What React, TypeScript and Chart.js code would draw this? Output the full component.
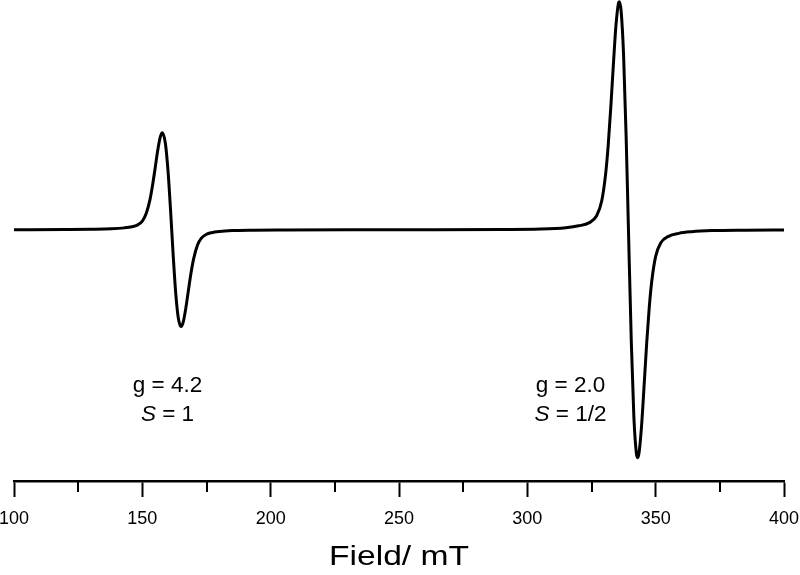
import { useEffect, useRef } from 'react';
import { Chart, registerables } from 'chart.js';

Chart.register(...registerables);

const FONT = '"Liberation Sans", Arial, Helvetica, sans-serif';

// Magnetic field (mT) sampled along the recorded trace
const fieldMT = [
  100, 120, 130, 138, 143, 146, 148, 150, 151.5, 153, 154, 155, 156, 157, 157.8,
  159, 160, 161, 162, 163, 164, 165.1, 166, 167, 168, 169, 170, 171.5, 173, 175,
  177, 180, 185, 193, 205, 230, 260, 290, 305, 315, 320, 324, 327, 329, 330.5,
  331.5, 332.5, 333.5, 334.5, 335.5, 335.8, 336.5, 337.5, 338.5, 339.4, 340.5,
  341.5, 342.5, 343.0, 343.5, 344.5, 345.5, 346.5, 347.5, 348.5, 350, 352, 355,
  359, 364, 372, 385, 400,
];

// EPR derivative signal (arbitrary units, g = 2.0 line normalised to 1)
const signal = [
  0, 0.001, 0.002, 0.004, 0.008, 0.013, 0.020, 0.038, 0.071, 0.133, 0.196, 0.271,
  0.348, 0.407, 0.425, 0.377, 0.259, 0.085, -0.108, -0.277, -0.386, -0.425, -0.402,
  -0.340, -0.262, -0.188, -0.127, -0.067, -0.037, -0.020, -0.013, -0.008, -0.004,
  -0.002, -0.001, 0, 0, 0.001, 0.003, 0.009, 0.017, 0.030, 0.061, 0.127, 0.244,
  0.369, 0.534, 0.720, 0.892, 0.993, 1.0, 0.964, 0.766, 0.406, 0, -0.489, -0.819,
  -0.982, -1.0, -0.981, -0.861, -0.683, -0.498, -0.341, -0.224, -0.117, -0.057,
  -0.029, -0.016, -0.009, -0.004, -0.002, -0.001,
];

const majorTicks = [100, 150, 200, 250, 300, 350, 400];
const minorTicks = [125, 175, 225, 275, 325, 375];
const axisTitle = 'Field/ mT';

const gLabels = ['g = 4.2', 'g = 2.0'];
const spinLabels = ['1', '1/2'];
const labelFields = [159.8, 316.8];

const annotPlugin = {
  id: 'annot',
  afterDraw(chart: any) {
    const ctx = chart.ctx as CanvasRenderingContext2D;
    const xs = chart.scales.x;
    const area = chart.chartArea;
    ctx.save();
    // minor ticks
    ctx.strokeStyle = '#000';
    ctx.lineWidth = 2;
    minorTicks.forEach((v) => {
      const x = Math.round(xs.getPixelForValue(v));
      ctx.beginPath();
      ctx.moveTo(x, area.bottom);
      ctx.lineTo(x, area.bottom + 11);
      ctx.stroke();
    });
    // axis title (horizontally stretched like the original)
    ctx.fillStyle = '#000';
    ctx.save();
    ctx.font = `28px ${FONT}`;
    ctx.textAlign = 'center';
    ctx.textBaseline = 'alphabetic';
    ctx.translate((area.left + area.right) / 2, 565);
    ctx.scale(1.2, 1);
    ctx.fillText(axisTitle, 0, 0);
    ctx.restore();
    // annotations
    const size = 22.5;
    gLabels.forEach((g, i) => {
      const cx = xs.getPixelForValue(labelFields[i]);
      ctx.font = `${size}px ${FONT}`;
      ctx.textAlign = 'left';
      ctx.textBaseline = 'alphabetic';
      const w1 = ctx.measureText(g).width;
      ctx.fillText(g, cx - w1 / 2, 392);
      ctx.font = `italic ${size}px ${FONT}`;
      const ws = ctx.measureText('S').width;
      ctx.font = `${size}px ${FONT}`;
      const rest = ' = ' + spinLabels[i];
      const wr = ctx.measureText(rest).width;
      const x0 = cx - (ws + wr) / 2;
      ctx.font = `italic ${size}px ${FONT}`;
      ctx.fillText('S', x0, 421);
      ctx.font = `${size}px ${FONT}`;
      ctx.fillText(rest, x0 + ws, 421);
    });
    ctx.restore();
  },
};

export default function App() {
  const ref = useRef<HTMLCanvasElement>(null);
  useEffect(() => {
    const canvas = ref.current!;
    const data = fieldMT.map((x, i) => ({ x, y: signal[i] }));
    const chart = new Chart(canvas, {
      type: 'line',
      data: {
        datasets: [
          {
            data,
            borderColor: '#000',
            borderWidth: 3,
            pointRadius: 0,
            cubicInterpolationMode: 'monotone',
            fill: false,
            clip: false as any,
          },
        ],
      },
      options: {
        animation: false,
        responsive: false,
        devicePixelRatio: 1,
        events: [],
        layout: { padding: { left: 14, right: 16, top: 0, bottom: 0 } },
        plugins: { legend: { display: false }, tooltip: { enabled: false } },
        scales: {
          x: {
            type: 'linear',
            position: 'bottom',
            min: 100,
            max: 400,
            afterBuildTicks: (s: any) => {
              s.ticks = majorTicks.map((v) => ({ value: v }));
            },
            afterFit: (s: any) => {
              s.height = 94;
              s.paddingLeft = 0;
              s.paddingRight = 0;
            },
            ticks: {
              autoSkip: false,
              maxRotation: 0,
              padding: 11,
              color: '#000',
              font: { family: FONT, size: 18 },
              callback: (v: any) => String(v),
            },
            grid: {
              display: true,
              drawOnChartArea: false,
              drawTicks: true,
              tickLength: 16,
              tickWidth: 2,
              tickColor: '#000',
              color: '#000',
            },
            border: { display: true, color: '#000', width: 2.5 },
          },
          y: { type: 'linear', display: false, min: -1.1022, max: 1.0075 },
        },
      } as any,
      plugins: [annotPlugin],
    });
    return () => chart.destroy();
  }, []);
  return (
    <div style={{ position: 'fixed', left: 0, top: 0, width: 800, height: 575, background: '#fff' }}>
      <canvas ref={ref} width={800} height={575} />
    </div>
  );
}
